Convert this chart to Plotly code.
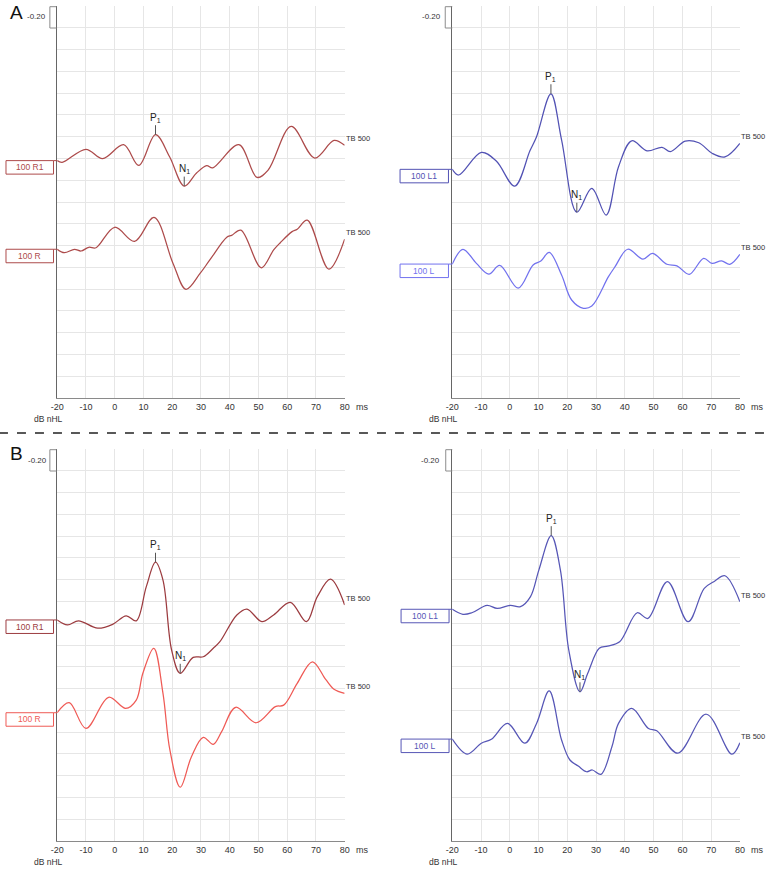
import plotly.graph_objects as go
import numpy as np

W, H = 767, 869
FONT = "Liberation Sans, Arial, sans-serif"

# ---------------- data (amplitude in grid units, time in ms) ----------------
x_ticks = [-20, -10, 0, 10, 20, 30, 40, 50, 60, 70, 80]
x_tick_text = [str(v) for v in x_ticks]

# Panel A, left (right ear)
a_r1_t = [-20, -18.3, -10, -4.2, 3.1, 8.4, 14.2, 19.1, 24.2, 28.4, 32, 34.1, 43.2, 49.5, 53.4, 61.4, 69.6, 76.3, 80]
a_r1_v = [10.90, 10.82, 11.42, 10.99, 11.63, 10.68, 12.09, 11.08, 9.73, 10.32, 10.67, 10.57, 11.63, 10.13, 10.47, 12.47, 11.02, 11.83, 11.60]
a_r_t = [-20, -17.5, -14, -11.7, -9, -6.5, 0, 6.9, 13.7, 20.3, 24.8, 29.7, 33.1, 39, 40.7, 43.9, 51, 55.3, 57.6, 61.7, 63.5, 67, 74.5, 80]
a_r_v = [6.83, 6.67, 6.83, 6.75, 6.92, 6.90, 7.84, 7.19, 8.29, 6.18, 4.99, 5.72, 6.34, 7.38, 7.47, 7.71, 5.98, 6.80, 7.13, 7.64, 7.75, 8.17, 5.92, 7.29]

# Panel A, right (left ear)
a_l1_t = [-20, -17.8, -9.9, -4.7, 1.7, 7, 9.3, 14.3, 18, 23.3, 28.5, 33.5, 37.8, 42.4, 47.7, 52.9, 55.8, 61, 65.7, 70.3, 74.8, 80]
a_l1_v = [10.50, 10.24, 11.28, 10.88, 9.73, 11.35, 12.00, 13.97, 11.85, 8.53, 9.63, 8.40, 10.62, 11.81, 11.35, 11.51, 11.31, 11.80, 11.72, 11.24, 11.07, 11.69]
a_l_t = [-20, -16.3, -11.6, -7.3, -3.5, 2.9, 8.1, 10.8, 13.7, 18, 21.5, 25.6, 28.5, 34.3, 36.6, 41, 46.3, 49.6, 54.6, 58.1, 62.4, 67.4, 70.3, 73.6, 76.5, 80]
a_l_v = [6.15, 6.83, 6.18, 5.69, 6.09, 5.04, 6.11, 6.29, 6.69, 5.65, 4.50, 4.12, 4.22, 5.57, 6.03, 6.83, 6.38, 6.64, 6.14, 6.07, 5.68, 6.41, 6.18, 6.30, 6.14, 6.60]

# Panel B, left (right ear)
b_r1_t = [-20, -16.4, -12.6, -5.9, -0.7, 4, 7.5, 11, 14.2, 16.8, 19.8, 22.8, 27.3, 30.8, 34.3, 36.6, 42.5, 46, 51.2, 55.3, 61.1, 66.7, 70.5, 75.1, 80]
b_r1_v = [10.15, 9.92, 10.11, 9.77, 9.95, 10.34, 10.11, 11.68, 12.80, 11.98, 8.77, 7.70, 8.43, 8.46, 8.85, 9.15, 10.38, 10.65, 10.07, 10.38, 10.96, 10.07, 11.22, 12.02, 10.84]
b_r_t = [-20, -15.8, -10, -2.1, 3.8, 7.5, 9.8, 13.6, 16.8, 19.2, 22.8, 26.7, 30.8, 34.3, 37.2, 42.1, 49.2, 55.9, 58.8, 63.5, 68.8, 73.4, 76.3, 80]
b_r_v = [5.89, 6.35, 5.17, 6.60, 6.09, 6.47, 7.70, 8.85, 6.78, 4.18, 2.47, 3.87, 4.76, 4.44, 5.02, 6.14, 5.43, 6.17, 6.24, 7.24, 8.23, 7.42, 6.97, 6.78]

# Panel B, right (left ear)
b_l1_t = [-20, -16.3, -13.2, -7.9, -4.4, 0.2, 3.7, 7.2, 10.1, 14.4, 17.6, 20.5, 24.4, 27.1, 31.1, 34, 38.2, 44.3, 48, 54.8, 62, 67.6, 71.3, 74.8, 80]
b_l1_v = [10.64, 10.41, 10.48, 10.82, 10.68, 10.82, 10.76, 11.22, 12.44, 14.02, 12.44, 8.77, 6.85, 7.70, 8.85, 8.95, 9.15, 10.48, 10.22, 11.91, 10.07, 11.60, 11.94, 12.18, 10.99]
b_l_t = [-20, -14.8, -9.9, -6.4, -0.8, 5.2, 9.3, 13.7, 18, 20.9, 23.8, 26.7, 28.7, 31.7, 35.5, 37.8, 42.4, 48.2, 51.1, 58.4, 68.3, 77.2, 80]
b_l_v = [4.68, 3.99, 4.49, 4.67, 5.40, 4.49, 5.40, 6.89, 4.64, 3.72, 3.44, 3.18, 3.26, 3.06, 4.33, 5.40, 6.09, 5.17, 5.06, 4.03, 5.82, 3.99, 4.51]

stim_label = "TB 500"
scale_label = "-0.20"

# ---------------- layout geometry ----------------
# horizontal calibration of the rendered page (paper appears inset)
X_OFF, X_SPAN = 8.0, 752.0

def px(x):
    return (x - X_OFF) / X_SPAN

def py(y):
    return 1 - y / H

dom_x_left = [px(58), px(344.3)]
dom_x_right = [px(451.5), px(738)]
dom_y_a = [py(398), py(6)]
dom_y_b = [py(841), py(449)]

panels = [
    dict(ax="", xd=dom_x_left, yd=dom_y_a, top=6,
         traces=[(a_r1_t, a_r1_v, "#ad4b4b", "100 R1", True),
                 (a_r_t, a_r_v, "#ad4b4b", "100 R", False)],
         box=(7, 54.3), axis_px=58, br=(50.7, 57.3), scx=37.5, dbx=49, msx=362),
    dict(ax="2", xd=dom_x_right, yd=dom_y_a, top=6,
         traces=[(a_l1_t, a_l1_v, "#5252b4", "100 L1", True),
                 (a_l_t, a_l_v, "#7272ee", "100 L", False)],
         box=(399.5, 447.7), axis_px=451.5, br=(444.5, 451.5), scx=430.5, dbx=443, msx=755),
    dict(ax="3", xd=dom_x_left, yd=dom_y_b, top=449,
         traces=[(b_r1_t, b_r1_v, "#9c3c40", "100 R1", True),
                 (b_r_t, b_r_v, "#ef5a55", "100 R", False)],
         box=(7, 54.3), axis_px=58, br=(50.7, 57.3), scx=38, dbx=49, msx=362),
    dict(ax="4", xd=dom_x_right, yd=dom_y_b, top=449,
         traces=[(b_l1_t, b_l1_v, "#5656b6", "100 L1", True),
                 (b_l_t, b_l_v, "#5656b6", "100 L", False)],
         box=(400.5, 448.3), axis_px=451.5, br=(445, 451.5), scx=430, dbx=443, msx=755),
]

fig = go.Figure()
shapes = []
annotations = []
layout = dict(
    width=W, height=H, margin=dict(l=0, r=0, t=0, b=0), autosize=False,
    paper_bgcolor="white", plot_bgcolor="white", showlegend=False,
    font=dict(family=FONT, color="#333", size=9),
)

GRID_PX = 392 / 18.0

for p in panels:
    s = p["ax"]
    xa = "x" + s
    ya = "y" + s
    layout["xaxis" + s] = dict(
        domain=p["xd"], range=[-20, 80], anchor=ya, tickvals=x_ticks, ticktext=x_tick_text,
        showgrid=True, gridcolor="#e6e6e6", gridwidth=1, zeroline=False,
        showline=True, linecolor="#8a8a8a", linewidth=1, ticks="",
        tickfont=dict(size=9, color="#333", family=FONT), fixedrange=True,
    )
    layout["yaxis" + s] = dict(
        domain=p["yd"], range=[0, 18], anchor=xa, dtick=1,
        showgrid=True, gridcolor="#e6e6e6", gridwidth=1, zeroline=False,
        showline=True, linecolor="#666", linewidth=1, showticklabels=False,
        ticks="", fixedrange=True,
    )
    top = p["top"]
    bottom = top + 392
    bx0, bx1 = p["br"]
    shapes.append(dict(type="path", xref="paper", yref="paper",
                       path=f"M {px(bx1)} {py(top + 0.7)} L {px(bx0)} {py(top + 0.7)} L {px(bx0)} {py(top + 22)} L {px(bx1)} {py(top + 22)}",
                       line=dict(color="#8c8c8c", width=1)))
    annotations.append(dict(x=px(p["scx"]), y=py(top + 11), xref="paper", yref="paper",
                            text=scale_label, showarrow=False, xanchor="center", yanchor="middle",
                            font=dict(size=8, color="#333", family=FONT)))
    annotations.append(dict(x=px(p["msx"]), y=py(bottom + 9), xref="paper", yref="paper",
                            text="ms", showarrow=False, xanchor="center", yanchor="middle",
                            font=dict(size=9, color="#333", family=FONT)))
    annotations.append(dict(x=px(p["dbx"]), y=py(bottom + 21), xref="paper", yref="paper",
                            text="dB nHL", showarrow=False, xanchor="center", yanchor="middle",
                            font=dict(size=8.5, color="#333", family=FONT)))

    for (t, v, col, lab, has_peaks) in p["traces"]:
        fig.add_trace(go.Scatter(x=t, y=v, mode="lines", xaxis=xa, yaxis=ya,
                                 line=dict(color=col, width=1.25, shape="spline", smoothing=1.0),
                                 hoverinfo="skip"))
        bx_a, bx_b = p["box"]
        y_top = v[0]
        y_bot = v[0] - 13.5 / GRID_PX
        shapes.append(dict(type="rect", xref="paper", yref=ya,
                           x0=px(bx_a), x1=px(bx_b), y0=y_bot, y1=y_top,
                           line=dict(color=col, width=1), fillcolor="white"))
        shapes.append(dict(type="line", xref="paper", yref=ya,
                           x0=px(bx_b), x1=px(p["axis_px"]), y0=y_top, y1=y_top,
                           line=dict(color=col, width=1)))
        annotations.append(dict(x=px((bx_a + bx_b) / 2), y=(y_top + y_bot) / 2,
                                xref="paper", yref=ya, text=lab, showarrow=False,
                                xanchor="center", yanchor="middle",
                                font=dict(size=8.5, color=col, family=FONT)))
        annotations.append(dict(x=t[-1], y=v[-1] + 6.5 / GRID_PX, xref=xa, yref=ya,
                                text=stim_label, showarrow=False, xanchor="left", yanchor="middle",
                                xshift=-1, font=dict(size=7.5, color="#333", family=FONT)))
        if has_peaks:
            ta = np.array(t)
            va = np.array(v)
            wp = np.where((ta >= 10) & (ta <= 18))[0]
            ip = wp[np.argmax(va[wp])]
            wn = np.where((ta >= 20) & (ta <= 26))[0]
            i_n = wn[np.argmin(va[wn])]
            for idx, txt in ((ip, "P<sub>1</sub>"), (i_n, "N<sub>1</sub>")):
                annotations.append(dict(x=float(ta[idx]), y=float(va[idx]), xref=xa, yref=ya, text=txt,
                                        showarrow=True, arrowhead=0, arrowwidth=1,
                                        arrowcolor="#555", ax=0, ay=-17, standoff=0,
                                        font=dict(size=10, color="#222", family=FONT)))

annotations.append(dict(x=px(17), y=py(12), xref="paper", yref="paper", text="A",
                        xanchor="center", yanchor="middle",
                        showarrow=False, font=dict(size=19, color="#111", family=FONT)))
annotations.append(dict(x=px(17), y=py(453), xref="paper", yref="paper", text="B",
                        xanchor="center", yanchor="middle",
                        showarrow=False, font=dict(size=19, color="#111", family=FONT)))
shapes.append(dict(type="line", xref="paper", yref="paper", x0=px(0), x1=px(767), y0=py(433), y1=py(433),
                   line=dict(color="#222", width=1.5, dash="dash")))

layout["shapes"] = shapes
layout["annotations"] = annotations
fig.update_layout(**layout)
fig.write_html("out.html", config={"responsive": False},
               post_script="document.body.style.margin='0';document.body.style.overflow='hidden';")
